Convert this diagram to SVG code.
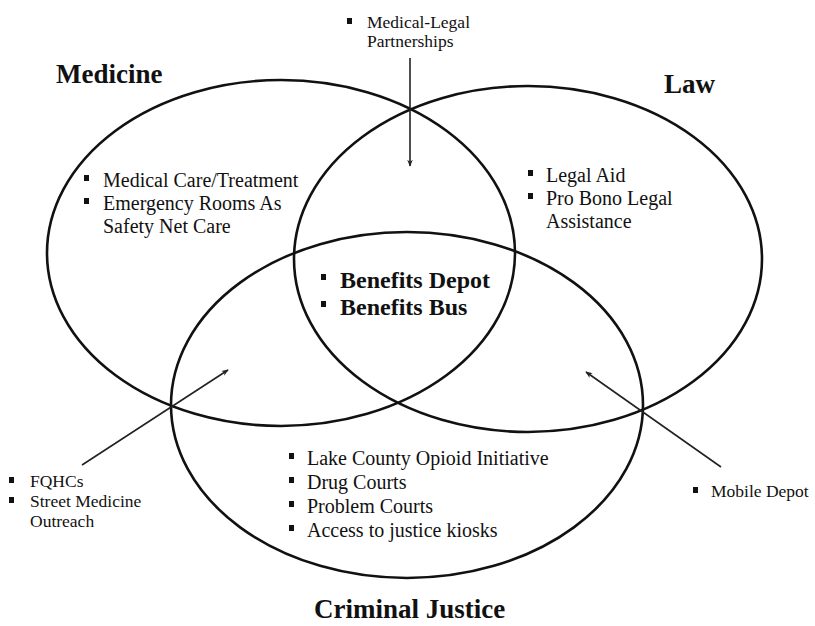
<svg xmlns="http://www.w3.org/2000/svg" width="815" height="626" viewBox="0 0 815 626">
<defs>
<style>
.ell{fill:none;stroke:#111;stroke-width:2.6}
.arr{fill:none;stroke:#222;stroke-width:1.6;marker-end:url(#ah)}
.t{font-family:"Liberation Serif","Times New Roman",serif;fill:#111}
.h{font-size:27px;font-weight:bold}
.b{font-size:20px}
.bb{font-size:24px;font-weight:bold}
.s{font-size:17.5px}
.bl{fill:#111}
</style>
<marker id="ah" viewBox="0 0 10 10" refX="9" refY="5" markerWidth="7" markerHeight="7" orient="auto" markerUnits="userSpaceOnUse">
<path d="M0,1 L10,5 L0,9 L3,5 Z" fill="#222"/>
</marker>
<rect id="sq" width="5" height="6"/>
</defs>
<rect width="815" height="626" fill="#fff"/>
<g id="medicine">
<ellipse class="ell" cx="281" cy="253" rx="234" ry="173"/>
<text class="t h" x="56" y="83">Medicine</text>
<use href="#sq" class="bl" x="84" y="175"/>
<text class="t b" x="103" y="187">Medical Care/Treatment</text>
<use href="#sq" class="bl" x="84" y="198"/>
<text class="t b" x="103" y="210">Emergency Rooms As</text>
<text class="t b" x="103" y="233">Safety Net Care</text>
</g>
<g id="law">
<ellipse class="ell" cx="528" cy="259" rx="234" ry="173"/>
<text class="t h" x="664" y="93">Law</text>
<use href="#sq" class="bl" x="528" y="170"/>
<text class="t b" x="546" y="182">Legal Aid</text>
<use href="#sq" class="bl" x="528" y="193"/>
<text class="t b" x="546" y="205">Pro Bono Legal</text>
<text class="t b" x="546" y="228">Assistance</text>
</g>
<g id="criminal-justice">
<ellipse class="ell" cx="407" cy="405" rx="236" ry="173"/>
<text class="t h" x="314" y="618">Criminal Justice</text>
<use href="#sq" class="bl" x="289" y="453"/>
<text class="t b" x="307" y="465">Lake County Opioid Initiative</text>
<use href="#sq" class="bl" x="289" y="477"/>
<text class="t b" x="307" y="489">Drug Courts</text>
<use href="#sq" class="bl" x="289" y="501"/>
<text class="t b" x="307" y="513">Problem Courts</text>
<use href="#sq" class="bl" x="289" y="525"/>
<text class="t b" x="307" y="537">Access to justice kiosks</text>
</g>
<g id="benefits">
<use href="#sq" class="bl" x="321" y="274"/>
<text class="t bb" x="340" y="288">Benefits Depot</text>
<use href="#sq" class="bl" x="321" y="301"/>
<text class="t bb" x="340" y="315">Benefits Bus</text>
</g>
<g id="medical-legal">
<use href="#sq" class="bl" x="347" y="18"/>
<text class="t s" x="367" y="28">Medical-Legal</text>
<text class="t s" x="367" y="47">Partnerships</text>
</g>
<g id="fqhcs">
<use href="#sq" class="bl" x="9" y="477"/>
<text class="t s" x="30" y="487">FQHCs</text>
<use href="#sq" class="bl" x="9" y="497"/>
<text class="t s" x="30" y="507">Street Medicine</text>
<text class="t s" x="30" y="527">Outreach</text>
</g>
<g id="mobile-depot">
<use href="#sq" class="bl" x="693" y="487"/>
<text class="t s" x="711" y="497">Mobile Depot</text>
</g>
<g id="connectors">
<line class="arr" x1="410" y1="58" x2="410" y2="166"/>
<line class="arr" x1="82" y1="465" x2="228" y2="370"/>
<line class="arr" x1="721" y1="467" x2="586" y2="372"/>
</g>
</svg>
